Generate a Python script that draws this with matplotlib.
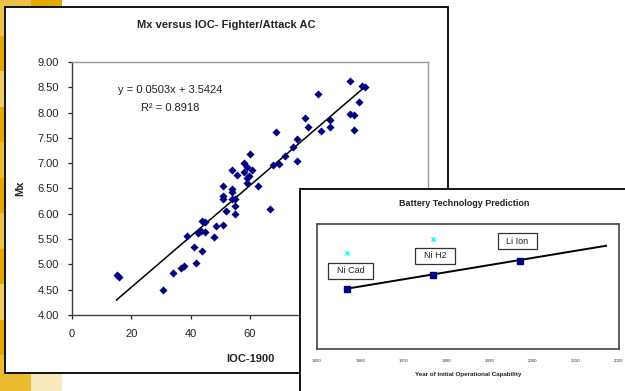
import matplotlib.pyplot as plt
from matplotlib.patches import Rectangle

plt.rcParams['font.family'] = ['Liberation Sans', 'DejaVu Sans']

# Mx vs IOC scatter data
ioc = [15.0, 15.8, 30.8, 34.0, 36.9, 37.9, 41.8, 41.0, 43.8, 38.9,
       42.6, 43.4, 44.9, 43.8, 44.7, 47.8, 48.7, 50.9, 51.9, 54.9,
       54.9, 50.9, 50.9, 53.9, 54.9, 53.9, 66.8, 50.9, 53.9, 53.8,
       55.7, 57.9, 57.9, 58.9, 58.9, 59.0, 59.8, 60.1, 60.8, 62.7,
       68.8, 67.9, 69.9, 71.9, 74.6, 75.9, 75.9, 78.7, 79.7, 82.9,
       83.9, 86.8, 86.8, 93.8, 97.6, 98.8, 96.9, 93.8, 94.9, 94.9]
mx = [4.80, 4.76, 4.50, 4.83, 4.93, 4.97, 5.03, 5.35, 5.27, 5.57,
      5.63, 5.66, 5.64, 5.85, 5.83, 5.55, 5.76, 5.77, 6.05, 5.99,
      6.16, 6.29, 6.36, 6.30, 6.30, 6.44, 6.10, 6.55, 6.87, 6.49,
      6.77, 7.00, 6.82, 6.93, 6.70, 6.61, 6.75, 7.19, 6.86, 6.55,
      7.61, 6.97, 6.99, 7.14, 7.33, 7.47, 7.05, 7.89, 7.71, 8.37,
      7.64, 7.86, 7.71, 8.62, 8.52, 8.50, 8.20, 7.97, 7.95, 7.66]
slope, intercept = 0.0503, 3.5424
eq_text = "y = 0.0503x + 3.5424"
r2_text = "R\u00b2 = 0.8918"
x_ticks = [0, 20, 40, 60, 80, 100, 120]
y_ticks = [4.0, 4.5, 5.0, 5.5, 6.0, 6.5, 7.0, 7.5, 8.0, 8.5, 9.0]

# battery inset data
bat_names = ["Ni Cad", "Ni H2", "Li Ion"]
bat_years = [1957, 1977, 1997]
bat_vals = [48.2, 59.2, 70.6]
bat_alt_years = [1957, 1977]
bat_alt_vals = [76.8, 88.0]
trend_years = [1957, 2017]
trend_vals = [48.3, 82.6]
label_pos = [(1957.8, 62.6), (1977.4, 74.4), (1996.4, 86.2)]
year_ticks = [1950, 1960, 1970, 1980, 1990, 2000, 2010, 2020]

W, H = 625, 391
fig = plt.figure(figsize=(W / 100, H / 100), dpi=100)


def box(x0, y0, x1, y1):
    # pixel box (top-left origin) -> figure fraction rect
    return [x0 / W, 1 - y1 / H, (x1 - x0) / W, (y1 - y0) / H]


# gold checker strip on the left
strip = [('#EDC24A', '#E3A900'), ('#E3A900', '#EBBB30'), ('#F0CC66', '#E3A900'),
         ('#E3A900', '#EDC24A'), ('#EBBB30', '#E3A900'), ('#E3A900', '#F0CC66'),
         ('#EDC24A', '#E3A900'), ('#E3A900', '#EBBB30'), ('#F0CC66', '#E3A900'),
         ('#E3A900', '#EDC24A'), ('#EBBB30', '#F7E8BE')]
row_h = H / len(strip)
for i, (c1, c2) in enumerate(strip):
    y0 = i * row_h
    fig.patches.append(Rectangle((0, 1 - (y0 + row_h) / H), 31 / W, row_h / H,
                                 transform=fig.transFigure, fc=c1, ec='none', zorder=-3))
    fig.patches.append(Rectangle((31 / W, 1 - (y0 + row_h) / H), 31 / W, row_h / H,
                                 transform=fig.transFigure, fc=c2, ec='none', zorder=-3))

# main chart frame
r = box(5, 7, 448, 373)
fig.patches.append(Rectangle((r[0], r[1]), r[2], r[3], transform=fig.transFigure,
                             fc='white', ec='black', lw=1.3, zorder=-2))

ax = fig.add_axes(box(72, 62, 428, 315))
ax.set_zorder(0)
ax.scatter(ioc, mx, marker='D', s=17, color='#000080', linewidths=0, zorder=3)
xl = [min(ioc), max(ioc)]
ax.plot(xl, [slope * v + intercept for v in xl], color='black', lw=1.1, zorder=2)
ax.set_xlim(0, 120)
ax.set_ylim(4, 9)
ax.set_xticks(x_ticks)
ax.set_yticks(y_ticks)
ax.set_yticklabels([f"{v:.2f}" for v in y_ticks])
ax.tick_params(axis='both', direction='out', length=3, width=0.9, labelsize=8,
               colors='#222222')
ax.tick_params(axis='y', pad=6.5)
ax.tick_params(axis='x', pad=7)
for s in ['left', 'bottom']:
    ax.spines[s].set_color('#404040')
    ax.spines[s].set_linewidth(1.0)
for s in ['top', 'right']:
    ax.spines[s].set_color('#999999')
    ax.spines[s].set_linewidth(1.0)
ax.set_xlabel("IOC-1900", fontsize=8, fontweight='bold', color='#222222')
ax.xaxis.set_label_coords(0.5, -0.154)
ax.set_ylabel("Mx", fontsize=8, fontweight='bold', color='#222222')
ax.yaxis.set_label_coords(-0.132, 0.5)
ax.text(0.275, 0.889, eq_text, transform=ax.transAxes, ha='center', va='center',
        fontsize=8, color='#222222')
ax.text(0.275, 0.818, r2_text, transform=ax.transAxes, ha='center', va='center',
        fontsize=8, color='#222222')
fig.text(226.5 / W, 1 - 25 / H, "Mx versus IOC- Fighter/Attack AC", ha='center',
         va='center', fontsize=8, fontweight='bold', color='#222222')

# inset chart frame
r = box(300, 189, 640, 400)
fig.patches.append(Rectangle((r[0], r[1]), r[2], r[3], transform=fig.transFigure,
                             fc='white', ec='black', lw=1.3, zorder=1))

ax2 = fig.add_axes(box(317, 224, 619, 349))
ax2.set_zorder(2)
ax2.plot(trend_years, trend_vals, color='black', lw=1.4, zorder=2)
ax2.plot(bat_years, bat_vals, ls='none', marker='s', ms=4.5, color='#000080', zorder=3)
ax2.plot(bat_alt_years, bat_alt_vals, ls='none', marker='x', ms=3, mew=1,
         color='#00FFFF', zorder=3)
for name, (lx, ly) in zip(bat_names, label_pos):
    ax2.text(lx, ly, "  " + name + "  ", ha='center', va='center', fontsize=6.5,
             color='#222222',
             bbox=dict(boxstyle='square,pad=0.4', fc='white', ec='#333333', lw=0.9))
ax2.set_xlim(1950, 2020)
ax2.set_ylim(0, 100)
ax2.set_xticks(year_ticks)
ax2.set_yticks([])
ax2.tick_params(axis='x', length=0, labelsize=3.2, pad=7.5, colors='#333333')
for s in ax2.spines.values():
    s.set_color('#444444')
    s.set_linewidth(1.2)
ax2.set_xlabel("Year of Initial Operational Capability", fontsize=4.5,
               fontweight='bold', color='#222222', labelpad=6.5)
fig.text(464 / W, 1 - 203 / H, "Battery Technology Prediction", ha='center',
         va='center', fontsize=6.5, fontweight='bold', color='#222222')

fig.savefig("out.png", dpi=100)
